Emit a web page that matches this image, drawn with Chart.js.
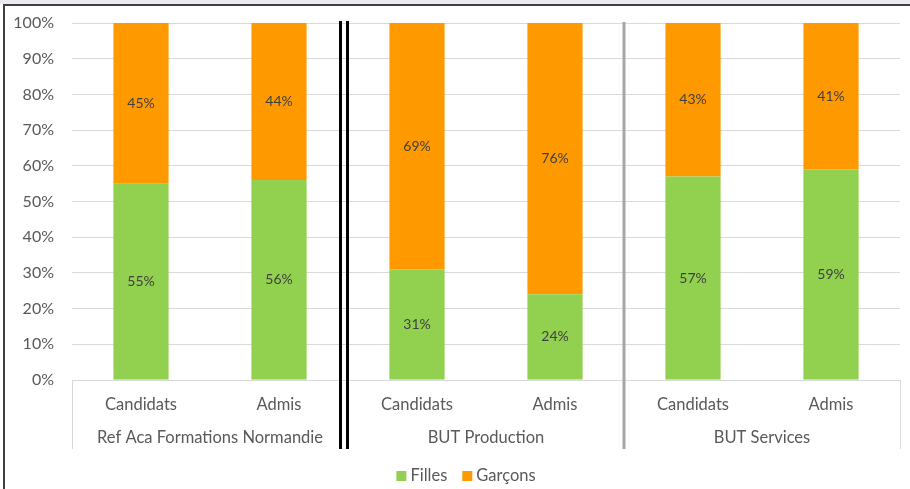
<!DOCTYPE html>
<html>
<head>
<meta charset="utf-8">
<script src="https://cdn.jsdelivr.net/npm/chart.js@4.4.0/dist/chart.umd.min.js"></script>
<style>
  html, body { margin: 0; padding: 0; background: #fff; }
  canvas { display: block; }
</style>
</head>
<body>
<canvas id="chart" width="910" height="489"></canvas>
<script>
const categories = ["Candidats", "Admis", "Candidats", "Admis", "Candidats", "Admis"];
const groups = ["Ref Aca Formations Normandie", "BUT Production", "BUT Services"];
const filles = [55, 56, 31, 24, 57, 59];
const garcons = [45, 44, 69, 76, 43, 41];
const seriesNames = ["Filles", "Garçons"];
const seriesColors = ["#92d050", "#ff9900"];

const FONT = "Lato, 'Open Sans', sans-serif";

// separators, group labels, data labels and legend
const decor = {
    id: "decor",
    beforeDraw(chart) {
        const ctx = chart.ctx;
        ctx.save();
        ctx.fillStyle = "#ffffff";
        ctx.fillRect(0, 0, chart.width, chart.height);
        ctx.fillStyle = "#e9ebf1";
        ctx.fillRect(0, 0, chart.width, 4);
        ctx.fillStyle = "#404040";
        ctx.fillRect(3, 4, chart.width - 3, 2);
        ctx.fillRect(3, 4, 2, chart.height - 4);
        ctx.restore();
    },
    afterDatasetsDraw(chart) {
        const ctx = chart.ctx;
        const area = chart.chartArea;
        const x = chart.scales.x;
        ctx.save();

        // data labels in the middle of each segment
        ctx.font = "14px " + FONT;
        ctx.fillStyle = "#404040";
        ctx.textAlign = "center";
        ctx.textBaseline = "middle";
        chart.data.datasets.forEach((ds, i) => {
            chart.getDatasetMeta(i).data.forEach((bar, j) => {
                ctx.fillText(ds.data[j] + "%", bar.x, (bar.y + bar.base) / 2);
            });
        });

        // group edges
        const step = x.getPixelForValue(1) - x.getPixelForValue(0);
        const edge = (k) => x.getPixelForValue(2 * k) - step / 2;
        const lineBottom = area.bottom + 69;

        const vline = (px, top, color, w) => {
            ctx.beginPath();
            ctx.strokeStyle = color;
            ctx.lineWidth = w;
            ctx.moveTo(px, top);
            ctx.lineTo(px, lineBottom);
            ctx.stroke();
        };
        vline(edge(0) + 0.5, area.bottom, "#d9d9d9", 1);
        vline(edge(3) + 0.5, area.bottom, "#d9d9d9", 1);
        vline(edge(2), area.top - 1, "#a6a6a6", 3);
        vline(edge(1) - 0.5, area.top - 2, "#000000", 3);
        vline(edge(1) - 7.5, area.top - 2, "#000000", 3);

        // group labels
        ctx.font = "16.5px " + FONT;
        ctx.fillStyle = "#595959";
        groups.forEach((g, k) => {
            const cx = (x.getPixelForValue(2 * k) + x.getPixelForValue(2 * k + 1)) / 2;
            ctx.fillText(g, cx, area.bottom + 58);
        });

        // legend
        ctx.font = "16.5px " + FONT;
        ctx.textAlign = "left";
        const ly = 476;
        const gap = 15;
        const widths = seriesNames.map(n => 10 + 4 + ctx.measureText(n).width);
        const total = widths.reduce((a, b) => a + b, 0) + gap;
        let lx = 466 - total / 2;
        seriesNames.forEach((n, i) => {
            ctx.fillStyle = seriesColors[i];
            ctx.fillRect(lx, ly - 5, 10, 10);
            ctx.fillStyle = "#595959";
            ctx.fillText(n, lx + 14, ly);
            lx += widths[i] + gap;
        });

        ctx.restore();
    }
};

const ctx = document.getElementById("chart").getContext("2d");
new Chart(ctx, {
    type: "bar",
    data: {
        labels: categories,
        datasets: [
            { label: seriesNames[0], data: filles, backgroundColor: seriesColors[0] },
            { label: seriesNames[1], data: garcons, backgroundColor: seriesColors[1] },
        ],
    },
    options: {
        responsive: false,
        animation: false,
        layout: { padding: { top: 23, right: 10, bottom: 0, left: 0 } },
        datasets: { bar: { categoryPercentage: 1, barPercentage: 0.4 } },
        plugins: { legend: { display: false }, tooltip: { enabled: false } },
        scales: {
            x: {
                stacked: true,
                grid: { display: false },
                border: { display: false },
                ticks: { color: "#595959", font: { family: FONT, size: 16.5 }, padding: 7, maxRotation: 0 },
                afterFit: (s) => { s.height = 109; },
            },
            y: {
                stacked: true,
                min: 0,
                max: 100,
                grid: { color: "#d9d9d9", drawTicks: false },
                border: { display: false },
                ticks: {
                    stepSize: 10,
                    padding: 18,
                    color: "#595959",
                    font: { family: FONT, size: 16 },
                    callback: (v) => v + "%",
                },
                afterFit: (s) => {
                    s.width = 72;
                    s.paddingTop = 0;
                    s.paddingBottom = 0;
                },
            },
        },
    },
    plugins: [decor],
});
</script>
</body>
</html>
